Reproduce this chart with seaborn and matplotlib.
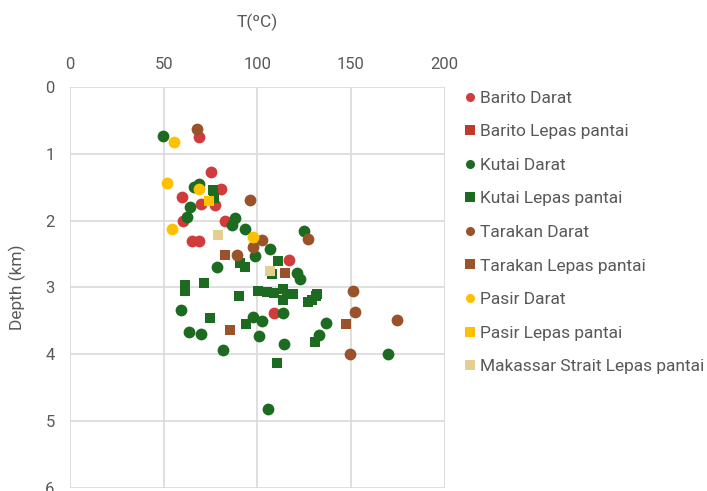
import pandas as pd
import numpy as np
import matplotlib.pyplot as plt
import seaborn as sns
from matplotlib.lines import Line2D

# ---- values (T in degC, depth in km) ----
barito_darat_t = [68.8, 75.2, 80.5, 59.6, 69.9, 77.3, 82.7, 60.3, 65.0, 68.8, 116.8, 108.9]
barito_darat_d = [0.75, 1.28, 1.52, 1.64, 1.75, 1.76, 2.01, 2.01, 2.31, 2.31, 2.59, 3.38]

barito_lepas_t = []
barito_lepas_d = []

kutai_darat_t = [49.6, 68.8, 64.0, 62.2, 88.0, 86.4, 93.3, 106.7, 98.7, 124.8, 121.0, 122.7,
                 113.6, 97.6, 102.4, 101.0, 136.5, 132.8, 78.4, 59.2, 63.5, 69.9, 81.6,
                 114.1, 170.0, 105.6, 66.0]
kutai_darat_d = [0.73, 1.45, 1.79, 1.94, 1.96, 2.06, 2.13, 2.43, 2.53, 2.15, 2.78, 2.87,
                 3.38, 3.44, 3.50, 3.73, 3.53, 3.71, 2.70, 3.34, 3.66, 3.69, 3.93,
                 3.85, 3.99, 4.82, 1.50]

kutai_lepas_t = [76.3, 76.8, 61.3, 61.3, 71.5, 90.1, 74.7, 93.9, 110.4, 90.7, 93.3, 110.9,
                 100.3, 105.0, 109.0, 113.6, 115.7, 119.0, 108.0, 126.9, 131.2, 129.0,
                 131.7, 130.7, 113.6]
kutai_lepas_d = [1.54, 1.66, 2.96, 3.06, 2.94, 3.12, 3.46, 3.54, 4.13, 2.63, 2.69, 2.61,
                 3.06, 3.07, 3.08, 3.03, 3.10, 3.10, 2.80, 3.21, 3.13, 3.18,
                 3.10, 3.81, 3.18]

tarakan_darat_t = [67.7, 96.0, 102.4, 97.6, 126.9, 89.0, 150.9, 152.0, 174.4, 149.3]
tarakan_darat_d = [0.63, 1.69, 2.29, 2.39, 2.28, 2.52, 3.06, 3.36, 3.48, 4.00]

tarakan_lepas_t = [82.7, 85.3, 114.7, 147.2]
tarakan_lepas_d = [2.51, 3.63, 2.79, 3.54]

pasir_darat_t = [55.5, 51.7, 68.8, 54.4, 97.6]
pasir_darat_d = [0.82, 1.43, 1.52, 2.13, 2.25]

pasir_lepas_t = [74.1]
pasir_lepas_d = [1.70]

makassar_lepas_t = [78.9, 106.7]
makassar_lepas_d = [2.22, 2.76]

groups = ['Barito Darat', 'Barito Lepas pantai', 'Kutai Darat', 'Kutai Lepas pantai',
          'Tarakan Darat', 'Tarakan Lepas pantai', 'Pasir Darat', 'Pasir Lepas pantai',
          'Makassar Strait Lepas pantai']
series = [(barito_darat_t, barito_darat_d), (barito_lepas_t, barito_lepas_d),
          (kutai_darat_t, kutai_darat_d), (kutai_lepas_t, kutai_lepas_d),
          (tarakan_darat_t, tarakan_darat_d), (tarakan_lepas_t, tarakan_lepas_d),
          (pasir_darat_t, pasir_darat_d), (pasir_lepas_t, pasir_lepas_d),
          (makassar_lepas_t, makassar_lepas_d)]

rows = []
for g, (ts, ds) in zip(groups, series):
    for t, d in zip(ts, ds):
        rows.append({'T': t, 'Depth': d, 'Group': g})
df = pd.DataFrame(rows)

palette = {'Barito Darat': '#d03c3c', 'Barito Lepas pantai': '#c0392b',
           'Kutai Darat': '#1d6b21', 'Kutai Lepas pantai': '#1d6b21',
           'Tarakan Darat': '#9a522b', 'Tarakan Lepas pantai': '#9a522b',
           'Pasir Darat': '#ffc000', 'Pasir Lepas pantai': '#ffc000',
           'Makassar Strait Lepas pantai': '#e3d08e'}
markers = {g: ('o' if 'Darat' in g else 's') for g in groups}

sns.set_style('white')
plt.rcParams['font.family'] = ['Roboto', 'DejaVu Sans']

fig = plt.figure(figsize=(7.07, 4.91), dpi=100)
ax = fig.add_axes([0.099, 0.006, 0.530, 0.817])

# draw group by group so the stacking order follows the legend
for g in groups:
    sub = df[df['Group'] == g]
    if sub.empty:
        continue
    sns.scatterplot(data=sub, x='T', y='Depth', color=palette[g], marker=markers[g],
                    s=72 if markers[g] == 'o' else 52, linewidth=0, legend=False,
                    ax=ax, zorder=3)

ax.set_xlim(0, 200)
ax.set_ylim(6, 0)
ax.set_xticks([0, 50, 100, 150, 200])
ax.set_yticks([0, 1, 2, 3, 4, 5, 6])
ax.xaxis.tick_top()
ax.xaxis.set_label_position('top')
ax.grid(True, color='#d9d9d9', linewidth=1.2)
ax.set_axisbelow(True)
for sp in ax.spines.values():
    sp.set_visible(False)
ax.tick_params(length=0, labelsize=12, colors='#595959', pad=11)
ax.set_xlabel('T(ºC)', fontsize=12.5, color='#595959', labelpad=21)
ax.set_ylabel('Depth (km)', fontsize=12.5, color='#595959', labelpad=14)

handles = [Line2D([], [], linestyle='none', marker=markers[g], markersize=6.5,
                  markerfacecolor=palette[g], markeredgewidth=0) for g in groups]
leg = ax.legend(handles, groups, loc='upper left', bbox_to_anchor=(1.035, 1.008),
                frameon=False, fontsize=12.5, labelspacing=1.06, handlelength=0.6,
                handletextpad=0.3, borderaxespad=0.0)
for txt in leg.get_texts():
    txt.set_color('#595959')

fig.savefig('out.png', dpi=100)
